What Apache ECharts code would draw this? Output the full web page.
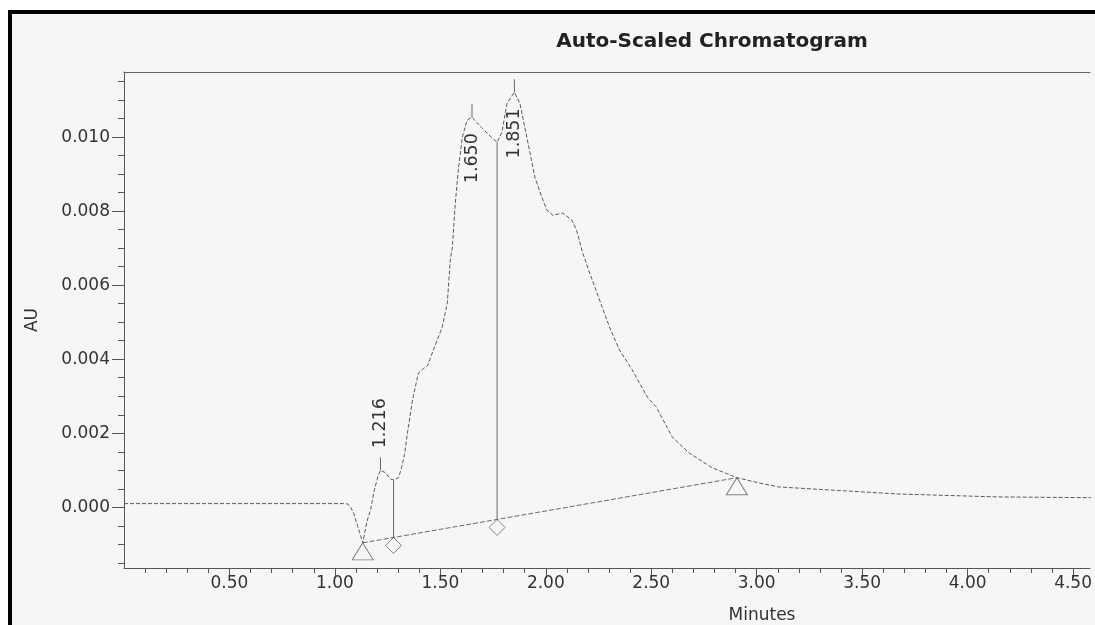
<!DOCTYPE html>
<html>
<head>
<meta charset="utf-8">
<script src="https://cdn.jsdelivr.net/npm/echarts@6/dist/echarts.min.js"></script>
<style>
  html, body { margin: 0; padding: 0; background: #fff; width: 1095px; height: 625px; overflow: hidden; }
  #frame { position: absolute; left: 8px; top: 10px; width: 1200px; height: 700px;
           border-top: 4px solid #000; border-left: 4px solid #000; background: #f6f6f6; }
  #chart { position: absolute; left: 0; top: 0; width: 1095px; height: 625px; }
</style>
</head>
<body>
<div id="frame"></div>
<div id="chart"></div>
<script>
// Detector trace (minutes, AU)
const traceTime = [0.00, 0.50, 1.00, 1.040, 1.061, 1.075, 1.090, 1.110, 1.132, 1.151, 1.170, 1.184,
  1.203, 1.216, 1.241, 1.264, 1.278, 1.302, 1.316, 1.330, 1.344, 1.368, 1.396, 1.420, 1.439,
  1.467, 1.509, 1.533, 1.547, 1.557, 1.571, 1.585, 1.604, 1.627, 1.650, 1.698, 1.736, 1.769,
  1.792, 1.816, 1.851, 1.877, 1.910, 1.948, 1.981, 2.005, 2.033, 2.080, 2.123, 2.146, 2.175,
  2.208, 2.255, 2.302, 2.349, 2.410, 2.481, 2.524, 2.599, 2.679, 2.788, 2.906, 3.009, 3.104,
  3.340, 3.670, 4.142, 4.590];
const traceAU = [0.0001, 0.0001, 0.0001, 0.0001, 0.00009, 0.0, -0.00018, -0.00055, -0.00096, -0.00040,
  -0.00005, 0.00039, 0.00082, 0.00100, 0.00093, 0.00076, 0.00074, 0.00080, 0.00107, 0.00142,
  0.00201, 0.00290, 0.00363, 0.00375, 0.00382, 0.00425, 0.00487, 0.00552, 0.00668, 0.00703,
  0.00822, 0.00911, 0.01000, 0.01046, 0.01054, 0.01024, 0.01003, 0.00986, 0.01013, 0.01092,
  0.01121, 0.01092, 0.01000, 0.00892, 0.00838, 0.00803, 0.00789, 0.00795, 0.00776, 0.00749,
  0.00687, 0.00633, 0.00560, 0.00487, 0.00425, 0.00371, 0.00298, 0.00271, 0.00190, 0.00147,
  0.00107, 0.00080, 0.00066, 0.00055, 0.00047, 0.00036, 0.00028, 0.00026];

// Integrated peaks: retention times and apex heights
const peakTimes = [1.216, 1.650, 1.851];
const peakAU = [0.00100, 0.01054, 0.01121];

// Integration baseline (start / end) and drop-line positions
const baselineTime = [1.132, 2.906];
const baselineAU = [-0.00096, 0.00080];
const dropTimes = [1.278, 1.769];
const dropAU = [0.00074, 0.00986];

// Axis ticks
const xTickValues = [0.5, 1.0, 1.5, 2.0, 2.5, 3.0, 3.5, 4.0, 4.5];
const yTickValues = [0, 0.002, 0.004, 0.006, 0.008, 0.010];

const xMin = 0, xMax = 4.58;
const yMin = -0.00164, yMax = 0.01176;

const xMinor = [];
for (let i = 1; i <= 45; i++) xMinor.push(+(i * 0.1).toFixed(1));
const yMinor = [];
for (let i = -3; i <= 23; i++) yMinor.push(+(i * 0.0005).toFixed(4));

const FONT = '"DejaVu Sans", sans-serif';
const axisColor = '#555';
const traceColor = '#5a5a5a';

function baselineAt(t) {
  const f = (t - baselineTime[0]) / (baselineTime[1] - baselineTime[0]);
  return baselineAU[0] + f * (baselineAU[1] - baselineAU[0]);
}

const series = [];

series.push({
  type: 'line', name: 'trace', xAxisIndex: 0, yAxisIndex: 0,
  data: traceTime.map((t, i) => [t, traceAU[i]]),
  showSymbol: false, symbol: 'none',
  lineStyle: { color: traceColor, width: 1, type: [4, 2] },
  z: 3
});

series.push({
  type: 'line', name: 'baseline', xAxisIndex: 0, yAxisIndex: 0,
  data: baselineTime.map((t, i) => [t, baselineAU[i]]),
  symbol: 'none',
  lineStyle: { color: '#6a6a6a', width: 1, type: [5, 2] }
});

dropTimes.forEach((t, i) => {
  series.push({
    type: 'line', name: 'drop' + i, xAxisIndex: 0, yAxisIndex: 0,
    data: [[t, dropAU[i]], [t, baselineAt(t)]],
    symbol: 'none',
    lineStyle: { color: '#6a6a6a', width: 1 }
  });
});

// Baseline markers: triangles at start/end, diamonds at drop lines
series.push({
  type: 'scatter', name: 'markers', xAxisIndex: 0, yAxisIndex: 0, silent: true,
  data: baselineTime.map((t, i) => ({
    value: [t, baselineAU[i]], symbol: 'triangle', symbolSize: [21, 17], symbolOffset: [0, 8.5]
  })).concat(dropTimes.map(t => ({
    value: [t, baselineAt(t)], symbol: 'diamond', symbolSize: [16, 16], symbolOffset: [0, 8]
  }))),
  itemStyle: { color: 'rgba(0,0,0,0)', borderColor: '#666', borderWidth: 1 },
  z: 4
});

// Peak apex ticks and retention-time labels (placed below the apex when there is no room above)
series.push({
  type: 'custom', name: 'peaks', xAxisIndex: 0, yAxisIndex: 0, silent: true,
  data: peakTimes.map((t, i) => [t, peakAU[i]]),
  renderItem: function (params, api) {
    const t = api.value(0), v = api.value(1);
    const p = api.coord([t, v]);
    const top = params.coordSys.y;
    const fitsAbove = p[1] - 80 > top;
    return {
      type: 'group',
      children: [
        { type: 'line', shape: { x1: p[0], y1: p[1], x2: p[0], y2: p[1] - 13 },
          style: { stroke: '#666', lineWidth: 1 } },
        { type: 'text', x: p[0], y: fitsAbove ? p[1] - 22 : p[1] + 16, rotation: Math.PI / 2,
          style: { text: t.toFixed(3), font: '17.5px ' + FONT, fill: '#333',
                   align: fitsAbove ? 'left' : 'right', verticalAlign: 'middle' } }
      ]
    };
  },
  z: 5
});

const option = {
  animation: false,
  backgroundColor: 'transparent',
  grid: { left: 124, right: 0, top: 72, bottom: 57, containLabel: false },
  xAxis: [
    {
      type: 'value', min: xMin, max: xMax, position: 'bottom',
      axisLine: { show: true, onZero: false, lineStyle: { color: axisColor, width: 1 } },
      axisTick: { show: true, customValues: xTickValues, length: 10, lineStyle: { color: axisColor } },
      axisLabel: { customValues: xTickValues, formatter: v => v.toFixed(2), margin: 7,
                   fontFamily: FONT, fontSize: 17, color: '#333' },
      splitLine: { show: false }
    },
    {
      type: 'value', min: xMin, max: xMax, position: 'bottom',
      axisLine: { show: false, onZero: false },
      axisTick: { show: true, customValues: xMinor, length: 5, lineStyle: { color: axisColor } },
      axisLabel: { show: false },
      splitLine: { show: false }
    },
    {
      type: 'value', min: xMin, max: xMax, position: 'top',
      axisLine: { show: true, onZero: false, lineStyle: { color: '#666', width: 1 } },
      axisTick: { show: false }, axisLabel: { show: false }, splitLine: { show: false }
    }
  ],
  yAxis: [
    {
      type: 'value', min: yMin, max: yMax, position: 'left',
      name: 'AU', nameLocation: 'middle', nameGap: 83,
      nameTextStyle: { fontFamily: FONT, fontSize: 17, color: '#333' },
      axisLine: { show: true, onZero: false, lineStyle: { color: axisColor, width: 1 } },
      axisTick: { show: true, customValues: yTickValues, length: 12, lineStyle: { color: axisColor } },
      axisLabel: { customValues: yTickValues, formatter: v => v.toFixed(3), margin: 14,
                   fontFamily: FONT, fontSize: 17, color: '#333' },
      splitLine: { show: false }
    },
    {
      type: 'value', min: yMin, max: yMax, position: 'left', offset: 0,
      axisLine: { show: false, onZero: false },
      axisTick: { show: true, customValues: yMinor, length: 6, lineStyle: { color: axisColor } },
      axisLabel: { show: false },
      splitLine: { show: false }
    }
  ],
  graphic: [
    { type: 'text', x: 712, y: 42,
      style: { text: 'Auto-Scaled Chromatogram', font: 'bold 20px "DejaVu Sans", sans-serif',
               fill: '#222', align: 'center', verticalAlign: 'middle' } },
    { type: 'text', x: 762, y: 616,
      style: { text: 'Minutes', font: '17px ' + FONT, fill: '#333', align: 'center', verticalAlign: 'middle' } }
  ],
  series: series
};

const chart = echarts.init(document.getElementById('chart'));
chart.setOption(option);
</script>
</body>
</html>
